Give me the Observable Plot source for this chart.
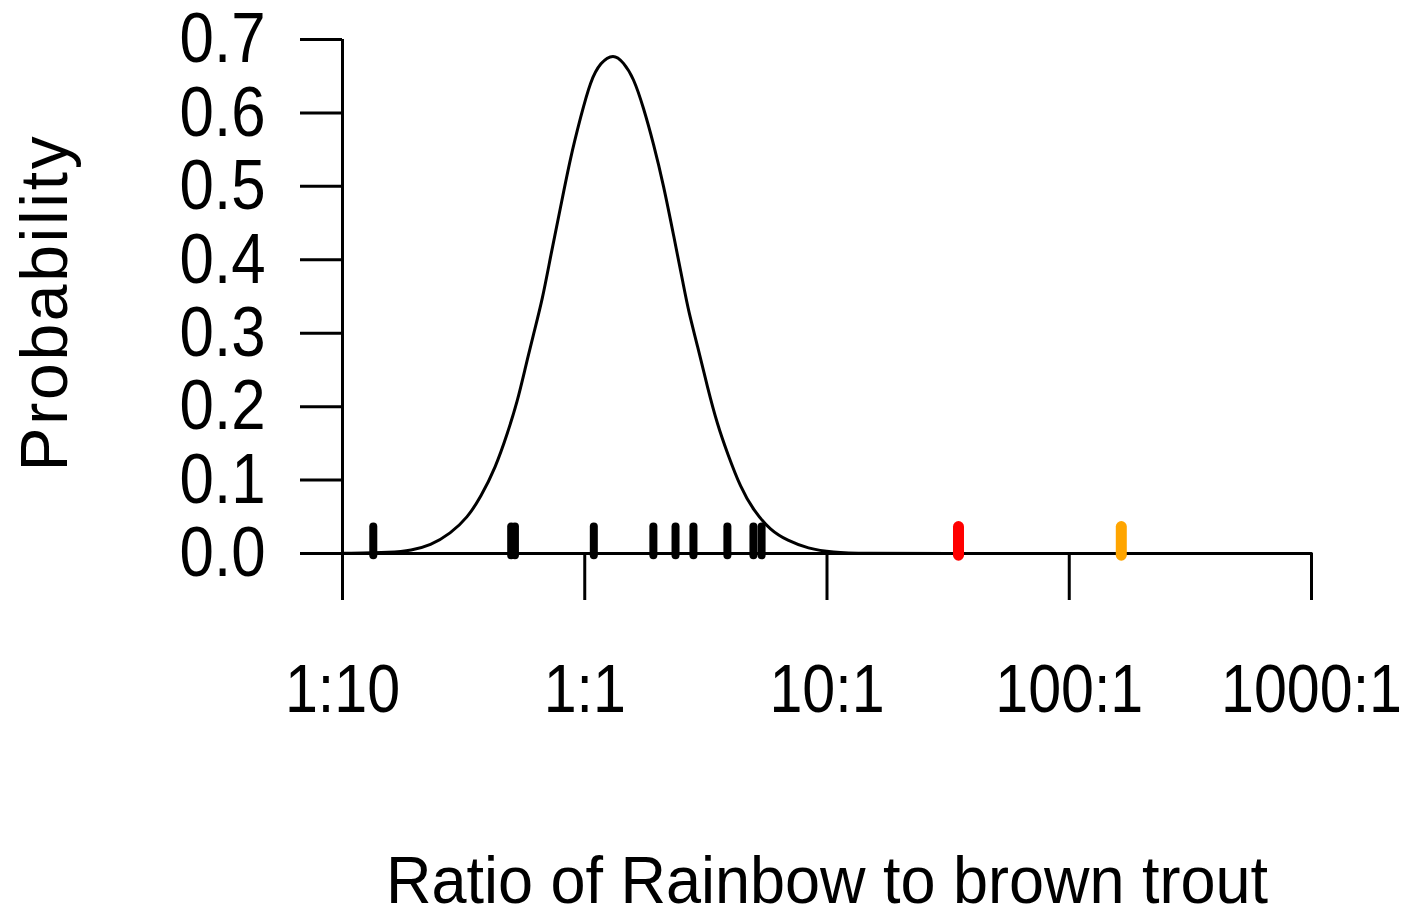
<!DOCTYPE html>
<html>
<head>
<meta charset="utf-8">
<script src="https://cdn.jsdelivr.net/npm/d3@7"></script>
<script src="https://cdn.jsdelivr.net/npm/@observablehq/plot@0.6"></script>
<style>
  html, body { margin: 0; padding: 0; background: white; }
</style>
</head>
<body>
<div id="chart"></div>
<script>
// Density curve (ratio of rainbow to brown trout, probability)
const ratio = [0.1, 0.1626, 0.191, 0.2307, 0.2793, 0.3281, 0.3715, 0.4285, 0.4797, 0.5272,
  0.5689, 0.6138, 0.6699, 0.7228, 0.7943, 0.873, 0.9605, 1.056, 1.161, 1.314, 1.445,
  1.589, 1.748, 1.922, 2.114, 2.325, 2.557, 2.681, 2.92, 3.212, 3.532, 3.884, 4.395,
  4.973, 5.847, 6.869, 8.308, 10.64, 13.75, 30, 100, 1000];
const probability = [0.0003, 0.0014, 0.0041, 0.0109, 0.0272, 0.049, 0.0763, 0.1171, 0.1635, 0.207,
  0.2533, 0.2982, 0.347, 0.4050, 0.4712, 0.5393, 0.5938, 0.6441, 0.6690, 0.6810, 0.6690,
  0.6482, 0.6074, 0.5584, 0.5020, 0.4340, 0.3650, 0.330, 0.283, 0.2261, 0.175, 0.1362, 0.0899,
  0.0586, 0.0313, 0.0177, 0.0068, 0.0014, 0, 0, 0, 0];

// Rug observations
const rugBlack = [0.134, 0.497, 0.515, 1.09, 1.92, 2.37, 2.81, 3.88, 4.97, 5.37];
const rugRed = [34.9];
const rugOrange = [164];

// Ticks
const xTicks = [0.1, 1, 10, 100, 1000];
const xTickLabels = ["1:10", "1:1", "10:1", "100:1", "1000:1"];
const yTicks = [0, 0.1, 0.2, 0.3, 0.4, 0.5, 0.6, 0.7];

const yTitle = "Probability";
const xTitle = "Ratio of Rainbow to brown trout";

const curveData = ratio.map((r, i) => ({ratio: r, probability: probability[i]}));

const chart = Plot.plot({
  width: 1405,
  height: 911,
  marginLeft: 342,
  marginRight: 94,
  marginTop: 39,
  marginBottom: 358,
  style: {fontFamily: "'Liberation Sans', Arial, sans-serif", background: "white", color: "black"},
  x: {type: "log", domain: [0.1, 1000]},
  y: {domain: [0, 0.7]},
  marks: [
    Plot.ruleY([0], {stroke: "black", strokeWidth: 3}),
    Plot.ruleX([0.1], {stroke: "black", strokeWidth: 3}),
    Plot.axisY({ticks: yTicks, tickFormat: d3.format(".1f"), tickSize: 42, tickPadding: 35,
      fontSize: 71, strokeWidth: 3, label: null}),
    Plot.axisX({ticks: xTicks, tickFormat: d => xTickLabels[xTicks.indexOf(d)], tickSize: 47,
      tickPadding: 63, fontSize: 68, strokeWidth: 3, label: null}),
    Plot.line(curveData, {x: "ratio", y: "probability", curve: "basis", stroke: "black", strokeWidth: 3}),
    Plot.ruleX(rugBlack, {y1: -0.003, y2: 0.036, stroke: "black", strokeWidth: 8, strokeLinecap: "round"}),
    Plot.ruleX(rugRed, {y1: -0.003, y2: 0.036, stroke: "red", strokeWidth: 11, strokeLinecap: "round"}),
    Plot.ruleX(rugOrange, {y1: -0.003, y2: 0.036, stroke: "orange", strokeWidth: 11, strokeLinecap: "round"}),
    Plot.text([yTitle], {frameAnchor: "left", textAnchor: "middle", dx: -297, dy: 6, rotate: -90,
      fontSize: 66, fill: "black"}),
    Plot.text([xTitle], {frameAnchor: "bottom", dy: 349, fontSize: 67, fill: "black"})
  ]
});

document.getElementById("chart").append(chart);

// The reference's lettering is condensed (horizontal texts) or stretched (vertical title)
chart.querySelectorAll("text").forEach(t => {
  const s = t.textContent;
  if (s === yTitle) {
    t.style.letterSpacing = "2.7px";
    return;
  }
  let f = 0.87;
  if (s === xTitle) f = 0.94;
  else if (xTickLabels.includes(s)) f = 0.87;
  const L = t.getComputedTextLength();
  t.setAttribute("textLength", (L * f).toFixed(1));
  t.setAttribute("lengthAdjust", "spacingAndGlyphs");
});
</script>
</body>
</html>
